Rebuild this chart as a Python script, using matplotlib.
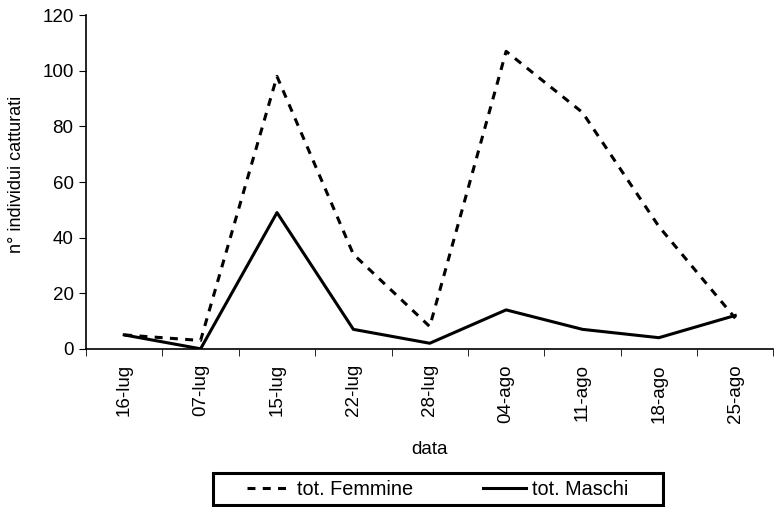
import matplotlib.pyplot as plt
from matplotlib.patches import Rectangle
import numpy as np

plt.rcParams['font.family'] = ['Liberation Sans', 'DejaVu Sans']

date = ['16-lug', '07-lug', '15-lug', '22-lug', '28-lug', '04-ago', '11-ago', '18-ago', '25-ago']
femmine = [5, 3, 98, 34, 8, 107, 85, 44, 11]
maschi = [5, 0, 49, 7, 2, 14, 7, 4, 12]

fig = plt.figure(figsize=(7.75, 5.07), dpi=100)
ax = fig.add_axes([0.111, 0.312, 0.887, 0.658])

x = np.arange(len(date))
ax.plot(x, femmine, color='black', linewidth=2.2, linestyle=(0, (2.6, 2.4)), label='tot. Femmine')
ax.plot(x, maschi, color='black', linewidth=2.2, label='tot. Maschi')

ax.set_xlim(-0.5, len(date) - 0.5)
ax.set_ylim(0, 120)
ax.set_yticks(range(0, 121, 20))
ax.set_xticks(x)
ax.set_xticklabels(date, rotation=90)
ax.set_xticks(np.arange(-0.5, len(date), 1), minor=True)
ax.tick_params(axis='x', which='major', length=0, pad=11, labelsize=13.5)
ax.tick_params(axis='x', which='minor', length=5, direction='out')
ax.tick_params(axis='y', length=5, direction='out', labelsize=13.5, pad=4)

ax.spines['top'].set_visible(False)
ax.spines['right'].set_visible(False)
for s in ['left', 'bottom']:
    ax.spines[s].set_linewidth(1.2)

ax.set_xlabel('data', fontsize=13.5, labelpad=13)
ax.set_ylabel('n° individui catturati', fontsize=13)
ax.yaxis.set_label_coords(-0.089, 0.524)

# legenda con cornice larga come nell'originale
leg = fig.legend(loc='center', bbox_to_anchor=(0.565, 0.035), ncol=2, fontsize=14.3,
                 frameon=False, columnspacing=3.5, handlelength=2.2, handletextpad=0.3,
                 borderpad=0.2, borderaxespad=0)
fig.patches.append(Rectangle((0.2748, 0.004), 0.5806, 0.063, transform=fig.transFigure,
                             fill=False, edgecolor='black', linewidth=2.2))

fig.savefig('out.png', dpi=100)
